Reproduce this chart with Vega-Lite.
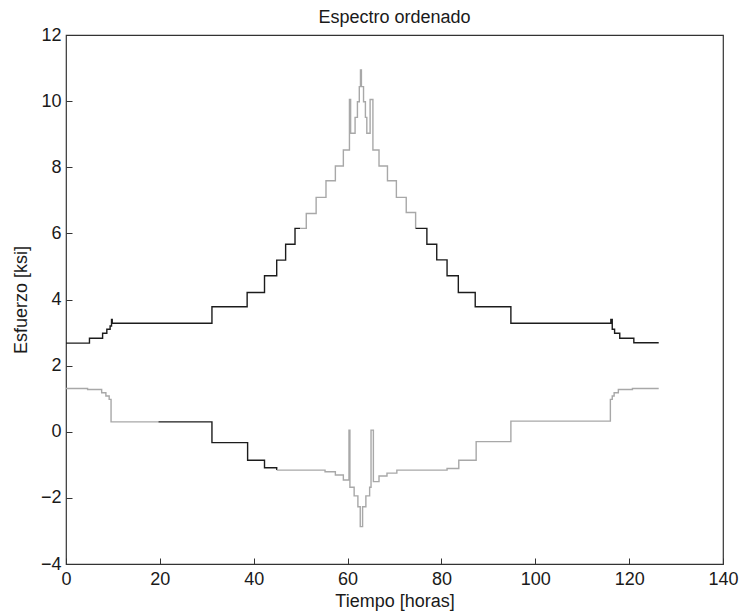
{
  "$schema": "https://vega.github.io/schema/vega-lite/v6.json",
  "autosize": "none",
  "width": 657,
  "height": 529,
  "padding": {"left": 66, "top": 35, "right": 17, "bottom": 50},
  "background": "white",
  "title": {"text": "Espectro ordenado", "font": "Liberation Sans", "fontSize": 18, "fontWeight": "normal", "color": "#1a1a1a", "offset": -1},
  "config": {
    "view": {"stroke": "#333333", "strokeWidth": 1.2},
    "axis": {"labelFont": "Liberation Sans", "titleFont": "Liberation Sans", "labelFontSize": 18, "titleFontSize": 18, "titleFontWeight": "normal", "labelColor": "#1a1a1a", "titleColor": "#1a1a1a", "grid": false, "domain": false, "tickColor": "#333333", "tickSize": -6, "labelFlush": false, "labelOverlap": false}
  },
  "data": {"values": [
    {"serie": "max", "tramo": "U1", "tono": "oscuro", "t": 0, "s": 2.68},
    {"serie": "max", "tramo": "U1", "tono": "oscuro", "t": 5.0, "s": 2.83},
    {"serie": "max", "tramo": "U1", "tono": "oscuro", "t": 7.8, "s": 2.98},
    {"serie": "max", "tramo": "U1", "tono": "oscuro", "t": 8.7, "s": 3.1},
    {"serie": "max", "tramo": "U1", "tono": "oscuro", "t": 9.4, "s": 3.2},
    {"serie": "max", "tramo": "U1", "tono": "oscuro", "t": 9.7, "s": 3.4},
    {"serie": "max", "tramo": "U1", "tono": "oscuro", "t": 9.85, "s": 3.28},
    {"serie": "max", "tramo": "U1", "tono": "oscuro", "t": 31.1, "s": 3.78},
    {"serie": "max", "tramo": "U1", "tono": "oscuro", "t": 38.6, "s": 4.21},
    {"serie": "max", "tramo": "U1", "tono": "oscuro", "t": 42.3, "s": 4.72},
    {"serie": "max", "tramo": "U1", "tono": "oscuro", "t": 44.9, "s": 5.19},
    {"serie": "max", "tramo": "U1", "tono": "oscuro", "t": 46.8, "s": 5.67},
    {"serie": "max", "tramo": "U1", "tono": "oscuro", "t": 48.8, "s": 6.15},
    {"serie": "max", "tramo": "U1", "tono": "oscuro", "t": 49.9, "s": 6.15},
    {"serie": "max", "tramo": "U2", "tono": "claro", "t": 49.9, "s": 6.15},
    {"serie": "max", "tramo": "U2", "tono": "claro", "t": 51.2, "s": 6.6},
    {"serie": "max", "tramo": "U2", "tono": "claro", "t": 53.3, "s": 7.09},
    {"serie": "max", "tramo": "U2", "tono": "claro", "t": 55.4, "s": 7.59},
    {"serie": "max", "tramo": "U2", "tono": "claro", "t": 57.4, "s": 8.04},
    {"serie": "max", "tramo": "U2", "tono": "claro", "t": 59.1, "s": 8.52},
    {"serie": "max", "tramo": "U2", "tono": "claro", "t": 60.4, "s": 10.05},
    {"serie": "max", "tramo": "U2", "tono": "claro", "t": 60.65, "s": 9.03},
    {"serie": "max", "tramo": "U2", "tono": "claro", "t": 61.6, "s": 9.51},
    {"serie": "max", "tramo": "U2", "tono": "claro", "t": 62.1, "s": 9.98},
    {"serie": "max", "tramo": "U2", "tono": "claro", "t": 62.5, "s": 10.44},
    {"serie": "max", "tramo": "U2", "tono": "claro", "t": 62.75, "s": 10.94},
    {"serie": "max", "tramo": "U2", "tono": "claro", "t": 62.95, "s": 10.44},
    {"serie": "max", "tramo": "U2", "tono": "claro", "t": 63.4, "s": 9.98},
    {"serie": "max", "tramo": "U2", "tono": "claro", "t": 63.8, "s": 9.51},
    {"serie": "max", "tramo": "U2", "tono": "claro", "t": 64.1, "s": 9.03},
    {"serie": "max", "tramo": "U2", "tono": "claro", "t": 64.8, "s": 10.05},
    {"serie": "max", "tramo": "U2", "tono": "claro", "t": 65.4, "s": 8.52},
    {"serie": "max", "tramo": "U2", "tono": "claro", "t": 66.7, "s": 8.04},
    {"serie": "max", "tramo": "U2", "tono": "claro", "t": 68.5, "s": 7.59},
    {"serie": "max", "tramo": "U2", "tono": "claro", "t": 70.4, "s": 7.09},
    {"serie": "max", "tramo": "U2", "tono": "claro", "t": 72.5, "s": 6.63},
    {"serie": "max", "tramo": "U2", "tono": "claro", "t": 74.5, "s": 6.15},
    {"serie": "max", "tramo": "U3", "tono": "oscuro", "t": 74.5, "s": 6.15},
    {"serie": "max", "tramo": "U3", "tono": "oscuro", "t": 76.9, "s": 5.67},
    {"serie": "max", "tramo": "U3", "tono": "oscuro", "t": 79.0, "s": 5.2},
    {"serie": "max", "tramo": "U3", "tono": "oscuro", "t": 81.2, "s": 4.72},
    {"serie": "max", "tramo": "U3", "tono": "oscuro", "t": 83.6, "s": 4.21},
    {"serie": "max", "tramo": "U3", "tono": "oscuro", "t": 87.2, "s": 3.78},
    {"serie": "max", "tramo": "U3", "tono": "oscuro", "t": 94.8, "s": 3.28},
    {"serie": "max", "tramo": "U3", "tono": "oscuro", "t": 116.1, "s": 3.4},
    {"serie": "max", "tramo": "U3", "tono": "oscuro", "t": 116.4, "s": 3.1},
    {"serie": "max", "tramo": "U3", "tono": "oscuro", "t": 116.9, "s": 2.98},
    {"serie": "max", "tramo": "U3", "tono": "oscuro", "t": 118.0, "s": 2.83},
    {"serie": "max", "tramo": "U3", "tono": "oscuro", "t": 121.0, "s": 2.69},
    {"serie": "max", "tramo": "U3", "tono": "oscuro", "t": 126.3, "s": 2.69},
    {"serie": "min", "tramo": "L1", "tono": "claro", "t": 0, "s": 1.31},
    {"serie": "min", "tramo": "L1", "tono": "claro", "t": 4.6, "s": 1.28},
    {"serie": "min", "tramo": "L1", "tono": "claro", "t": 7.6, "s": 1.18},
    {"serie": "min", "tramo": "L1", "tono": "claro", "t": 8.5, "s": 1.08},
    {"serie": "min", "tramo": "L1", "tono": "claro", "t": 9.2, "s": 0.98},
    {"serie": "min", "tramo": "L1", "tono": "claro", "t": 9.6, "s": 0.3},
    {"serie": "min", "tramo": "L1", "tono": "claro", "t": 19.7, "s": 0.3},
    {"serie": "min", "tramo": "L2", "tono": "oscuro", "t": 19.7, "s": 0.3},
    {"serie": "min", "tramo": "L2", "tono": "oscuro", "t": 31.1, "s": -0.33},
    {"serie": "min", "tramo": "L2", "tono": "oscuro", "t": 38.7, "s": -0.86},
    {"serie": "min", "tramo": "L2", "tono": "oscuro", "t": 42.3, "s": -1.09},
    {"serie": "min", "tramo": "L2", "tono": "oscuro", "t": 44.9, "s": -1.16},
    {"serie": "min", "tramo": "L3", "tono": "claro", "t": 44.9, "s": -1.16},
    {"serie": "min", "tramo": "L3", "tono": "claro", "t": 55.2, "s": -1.21},
    {"serie": "min", "tramo": "L3", "tono": "claro", "t": 57.4, "s": -1.31},
    {"serie": "min", "tramo": "L3", "tono": "claro", "t": 59.1, "s": -1.46},
    {"serie": "min", "tramo": "L3", "tono": "claro", "t": 60.3, "s": 0.05},
    {"serie": "min", "tramo": "L3", "tono": "claro", "t": 60.5, "s": -1.68},
    {"serie": "min", "tramo": "L3", "tono": "claro", "t": 61.4, "s": -1.94},
    {"serie": "min", "tramo": "L3", "tono": "claro", "t": 62.2, "s": -2.27},
    {"serie": "min", "tramo": "L3", "tono": "claro", "t": 62.7, "s": -2.87},
    {"serie": "min", "tramo": "L3", "tono": "claro", "t": 63.2, "s": -2.27},
    {"serie": "min", "tramo": "L3", "tono": "claro", "t": 63.9, "s": -1.94},
    {"serie": "min", "tramo": "L3", "tono": "claro", "t": 64.7, "s": -1.68},
    {"serie": "min", "tramo": "L3", "tono": "claro", "t": 65.0, "s": 0.05},
    {"serie": "min", "tramo": "L3", "tono": "claro", "t": 65.5, "s": -1.51},
    {"serie": "min", "tramo": "L3", "tono": "claro", "t": 66.7, "s": -1.34},
    {"serie": "min", "tramo": "L3", "tono": "claro", "t": 68.4, "s": -1.25},
    {"serie": "min", "tramo": "L3", "tono": "claro", "t": 70.5, "s": -1.16},
    {"serie": "min", "tramo": "L3", "tono": "claro", "t": 81.2, "s": -1.11},
    {"serie": "min", "tramo": "L3", "tono": "claro", "t": 83.7, "s": -0.86},
    {"serie": "min", "tramo": "L3", "tono": "claro", "t": 87.4, "s": -0.3},
    {"serie": "min", "tramo": "L3", "tono": "claro", "t": 94.8, "s": 0.32},
    {"serie": "min", "tramo": "L3", "tono": "claro", "t": 116.0, "s": 0.98},
    {"serie": "min", "tramo": "L3", "tono": "claro", "t": 116.4, "s": 1.08},
    {"serie": "min", "tramo": "L3", "tono": "claro", "t": 116.8, "s": 1.18},
    {"serie": "min", "tramo": "L3", "tono": "claro", "t": 117.7, "s": 1.28},
    {"serie": "min", "tramo": "L3", "tono": "claro", "t": 120.7, "s": 1.31},
    {"serie": "min", "tramo": "L3", "tono": "claro", "t": 126.3, "s": 1.31}
  ]},
  "mark": {"type": "line", "interpolate": "step-after", "strokeWidth": 1.4},
  "encoding": {
    "x": {"field": "t", "type": "quantitative", "scale": {"domain": [0, 140], "nice": false}, "axis": {"title": "Tiempo [horas]", "values": [0, 20, 40, 60, 80, 100, 120, 140], "labelPadding": 12, "titlePadding": 4}},
    "y": {"field": "s", "type": "quantitative", "scale": {"domain": [-4, 12], "nice": false, "zero": false}, "axis": {"title": "Esfuerzo [ksi]", "values": [-4, -2, 0, 2, 4, 6, 8, 10, 12], "labelPadding": 11, "titlePadding": 10}},
    "detail": {"field": "tramo"},
    "order": {"field": "t", "type": "quantitative"},
    "color": {"field": "tono", "type": "nominal", "scale": {"domain": ["oscuro", "claro"], "range": ["#1c1c1c", "#a8a8a8"]}, "legend": null}
  }
}
